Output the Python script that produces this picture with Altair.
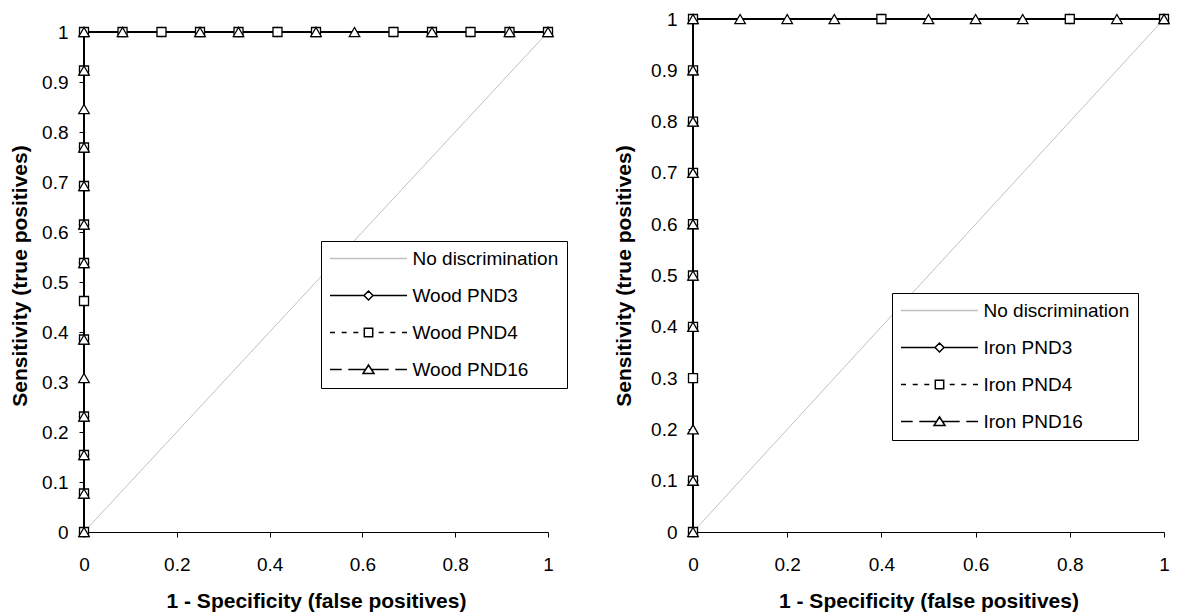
import altair as alt
import pandas as pd

FONT = "Liberation Sans"

# Axis ticks
X_TICKS = [0, 0.2, 0.4, 0.6, 0.8, 1]
Y_TICKS = [0, 0.1, 0.2, 0.3, 0.4, 0.5, 0.6, 0.7, 0.8, 0.9, 1]

# Reference diagonal (random classifier)
CHANCE_FPR = [0, 1]
CHANCE_TPR = [0, 1]

# Wood panel: ROC points (1 - specificity, sensitivity)
WOOD_NAMES = ["Wood PND3", "Wood PND4", "Wood PND16"]
WOOD_PND3_FPR = [0, 0, 0, 0, 0, 0, 0, 0, 0, 0, 0, 0,
                 0.083, 0.167, 0.25, 0.333, 0.417, 0.5, 0.667, 0.75, 0.833, 0.917, 1]
WOOD_PND3_TPR = [0, 0.077, 0.154, 0.231, 0.385, 0.462, 0.538, 0.615, 0.692, 0.769, 0.923, 1,
                 1, 1, 1, 1, 1, 1, 1, 1, 1, 1, 1]
WOOD_PND4_FPR = [0, 0, 0, 0, 0, 0, 0, 0, 0, 0, 0, 0,
                 0.083, 0.167, 0.25, 0.333, 0.417, 0.5, 0.667, 0.75, 0.833, 0.917, 1]
WOOD_PND4_TPR = [0, 0.077, 0.154, 0.231, 0.385, 0.462, 0.538, 0.615, 0.692, 0.769, 0.923, 1,
                 1, 1, 1, 1, 1, 1, 1, 1, 1, 1, 1]
WOOD_PND16_FPR = [0, 0, 0, 0, 0, 0, 0, 0, 0, 0, 0, 0, 0,
                  0.083, 0.25, 0.333, 0.5, 0.583, 0.75, 0.917, 1]
WOOD_PND16_TPR = [0, 0.077, 0.154, 0.231, 0.308, 0.385, 0.538, 0.615, 0.692, 0.769, 0.846, 0.923, 1,
                  1, 1, 1, 1, 1, 1, 1, 1]

# Iron panel
IRON_NAMES = ["Iron PND3", "Iron PND4", "Iron PND16"]
IRON_PND3_FPR = [0, 0, 0, 0, 0, 0, 0, 0, 0, 0, 0.4, 0.8, 1]
IRON_PND3_TPR = [0, 0.1, 0.3, 0.4, 0.5, 0.6, 0.7, 0.8, 0.9, 1, 1, 1, 1]
IRON_PND4_FPR = [0, 0, 0, 0, 0, 0, 0, 0, 0, 0, 0.4, 0.8, 1]
IRON_PND4_TPR = [0, 0.1, 0.3, 0.4, 0.5, 0.6, 0.7, 0.8, 0.9, 1, 1, 1, 1]
IRON_PND16_FPR = [0, 0, 0, 0, 0, 0, 0, 0, 0, 0, 0.1, 0.2, 0.3, 0.5, 0.6, 0.7, 0.9, 1]
IRON_PND16_TPR = [0, 0.1, 0.2, 0.4, 0.5, 0.6, 0.7, 0.8, 0.9, 1, 1, 1, 1, 1, 1, 1, 1, 1]

CHANCE_NAME = "No discrimination"

# ---- legend symbols: line + marker drawn as one custom path (unit square = SYM_PX pixels)
SYM_PX = 77.0


def _u(px):
    return f"{px / (SYM_PX / 2):.4f}"


def _segs(left_side):
    segs = list(left_side) + [(-b, -a) for a, b in left_side]
    return "".join(f"M{_u(a)},0H{_u(b)}" for a, b in segs)


def _poly(pts):
    return "M" + "L".join(f"{_u(x)},{_u(y)}" for x, y in pts) + "Z"


PATH_CHANCE = _segs([(-38.5, 0)])
PATH_SOLID_DIAMOND = _segs([(-38.5, -4.5)]) + _poly([(-4.5, 0), (0, -4.5), (4.5, 0), (0, 4.5)])
PATH_DOTTED_SQUARE = _segs([(-38.5, -33.5), (-26.8, -21.8), (-15.2, -10.2)]) + \
    _poly([(-4.2, -4.2), (4.2, -4.2), (4.2, 4.2), (-4.2, 4.2)])
PATH_DASHED_TRIANGLE = _segs([(-38.5, -26.8), (-20.2, -2.9)]) + \
    _poly([(0, -4.5), (5.5, 4), (-5.5, 4)])


def curve_frame(name, fpr, tpr):
    return pd.DataFrame({"series": name, "fpr": fpr, "tpr": tpr, "step": range(len(fpr))})


def roc_panel(names, curves, width, height, y_top, y_title_pad, legend_x, legend_y):
    x_axis = alt.Axis(values=X_TICKS, format="~g", title="1 - Specificity (false positives)",
                      titleFont=FONT, titleFontSize=21, titleFontWeight="bold", titleColor="black",
                      titlePadding=16, labelFont=FONT, labelFontSize=19, labelColor="black",
                      labelPadding=18, labelFlush=False, tickSize=5, tickColor="black",
                      domainColor="black", domainWidth=1, grid=False)
    y_axis = alt.Axis(values=Y_TICKS, format="~g", title="Sensitivity (true positives)",
                      titleFont=FONT, titleFontSize=21, titleFontWeight="bold", titleColor="black",
                      titlePadding=y_title_pad, labelFont=FONT, labelFontSize=19, labelColor="black",
                      labelPadding=11, tickSize=5, tickColor="black", domain=False, grid=False)
    x = alt.X("fpr:Q", scale=alt.Scale(domain=[0, 1], nice=False, zero=False), axis=x_axis)
    y = alt.Y("tpr:Q", scale=alt.Scale(domain=[0, y_top], nice=False), axis=y_axis)

    chance = alt.Chart(curve_frame(CHANCE_NAME, CHANCE_FPR, CHANCE_TPR)).mark_line(
        color="#c0c0c0", strokeWidth=1).encode(x=x, y=y, order="step:Q")

    dashes = [[1, 0], [2, 3], [9, 5]]
    shapes = ["diamond", "square", "triangle-up"]
    sizes = [80, 81, 110]
    frames = [curve_frame(n, f, t) for n, (f, t) in zip(names, curves)]

    lines = [alt.Chart(df).mark_line(color="black", strokeWidth=2, strokeDash=d).encode(
        x=x, y=y, order="step:Q") for df, d in zip(frames, dashes)]
    marks = [alt.Chart(df).mark_point(shape=s, size=sz, filled=True, fill="white", stroke="black",
                                      strokeWidth=1.3, opacity=1).encode(x=x, y=y)
             for df, s, sz in zip(frames, shapes, sizes)]

    legend_names = [CHANCE_NAME] + names
    legend = alt.Legend(title=None, orient="none", legendX=legend_x, legendY=legend_y,
                        direction="vertical", labelFont=FONT, labelFontSize=19, labelColor="black",
                        labelOffset=4.5, labelLimit=400, symbolSize=SYM_PX ** 2,
                        symbolStrokeWidth=1.5, symbolFillColor="white", symbolOpacity=1,
                        clipHeight=19, rowPadding=17, padding=8, strokeColor="black",
                        fillColor="white", cornerRadius=0)
    key_df = pd.DataFrame({"series": legend_names, "fpr": [-1] * 4, "tpr": [-1] * 4})
    key = alt.Chart(key_df).mark_point(clip=True, fill="white", size=SYM_PX ** 2,
                                       strokeWidth=1.5, opacity=1).encode(
        x=x, y=y,
        shape=alt.Shape("series:N", scale=alt.Scale(
            domain=legend_names,
            range=[PATH_CHANCE, PATH_SOLID_DIAMOND, PATH_DOTTED_SQUARE, PATH_DASHED_TRIANGLE]),
            legend=legend),
        stroke=alt.Stroke("series:N", scale=alt.Scale(
            domain=legend_names, range=["#c0c0c0", "black", "black", "black"]), legend=legend),
    )

    return alt.layer(chance, *lines, *marks, key).properties(width=width, height=height)


wood = roc_panel(WOOD_NAMES,
                 [(WOOD_PND3_FPR, WOOD_PND3_TPR), (WOOD_PND4_FPR, WOOD_PND4_TPR),
                  (WOOD_PND16_FPR, WOOD_PND16_TPR)],
                 width=464, height=513, y_top=1.026, y_title_pad=11, legend_x=237, legend_y=222)
iron = roc_panel(IRON_NAMES,
                 [(IRON_PND3_FPR, IRON_PND3_TPR), (IRON_PND4_FPR, IRON_PND4_TPR),
                  (IRON_PND16_FPR, IRON_PND16_TPR)],
                 width=471, height=513, y_top=1, y_title_pad=16, legend_x=199, legend_y=274)

chart = alt.hconcat(wood, iron, spacing=145, bounds="flush").resolve_scale(
    x="independent", y="independent", shape="independent", stroke="independent"
).resolve_legend(shape="independent", stroke="independent").properties(
    padding={"left": 9, "top": 10, "right": 5, "bottom": 5}, background="white"
).configure_view(stroke=None)

chart.save("out.html", embed_options={"renderer": "svg", "actions": False})
